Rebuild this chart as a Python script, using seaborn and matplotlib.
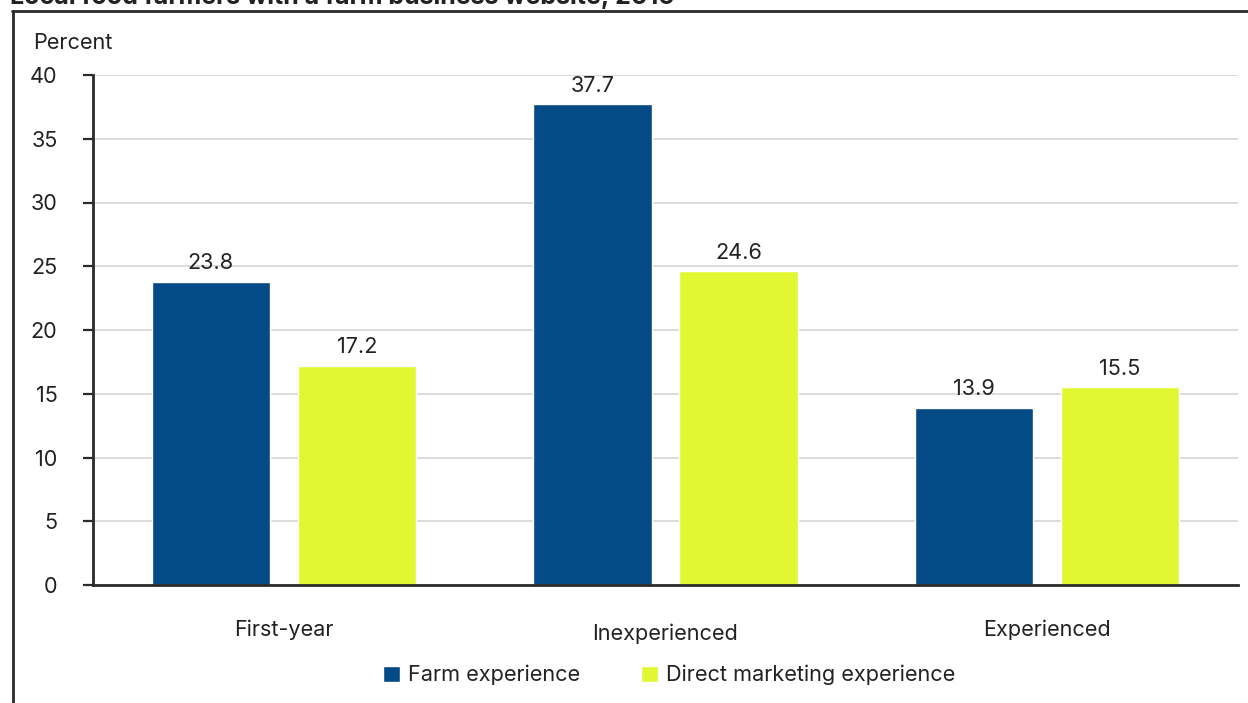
import matplotlib
matplotlib.use("Agg")
import matplotlib.pyplot as plt
import matplotlib.transforms as mtransforms
from matplotlib.lines import Line2D
import seaborn as sns
import pandas as pd

categories = ["First-year", "Inexperienced", "Experienced"]
series_names = ["Farm experience", "Direct marketing experience"]
farm_experience = [23.8, 37.7, 13.9]
direct_marketing_experience = [17.2, 24.6, 15.5]
y_ticks = [0, 5, 10, 15, 20, 25, 30, 35, 40]
title = "Local food farmers with a farm business website, 2015"
y_label = "Percent"

colors = ["#034a86", "#e1f732"]
FS = 15.6

df = pd.DataFrame({
    "category": categories * 2,
    "series": [series_names[0]] * 3 + [series_names[1]] * 3,
    "value": farm_experience + direct_marketing_experience,
})

sns.set_theme(style="white")
plt.rcParams["font.family"] = ["Inter", "DejaVu Sans"]

fig = plt.figure(figsize=(12.48, 7.03), dpi=100)
ax = fig.add_axes([93 / 1248, 1 - 585 / 703, (1238 - 93) / 1248, (585 - 75) / 703])

sns.barplot(data=df, x="category", y="value", hue="series", order=categories,
            hue_order=series_names, palette=colors, width=0.765, gap=0.19,
            saturation=1, ax=ax, legend=True, errorbar=None)

ax.set_xlim(-0.5, 2.5)
ax.set_ylim(0, 40)
ax.set_yticks(y_ticks)
ax.set_yticklabels([str(t) for t in y_ticks])
ax.set_xlabel("")
ax.set_ylabel("")
ax.grid(axis="y", color="#d9d9d9", linewidth=1.3)
ax.set_axisbelow(True)

for s in ["top", "right"]:
    ax.spines[s].set_visible(False)
for s in ["left", "bottom"]:
    ax.spines[s].set_color("#2b2b2b")
    ax.spines[s].set_linewidth(2)

ax.tick_params(axis="y", length=7.5, width=1.6, color="#2b2b2b", pad=18,
               labelsize=FS, labelcolor="#222222", left=True)
ax.tick_params(axis="x", length=0, pad=24.5, labelsize=FS, labelcolor="#222222")

# Middle category label sits slightly lower in the reference
xlabels = ax.get_xticklabels()
off = mtransforms.ScaledTranslation(0, -4 / 100, fig.dpi_scale_trans)
xlabels[1].set_transform(xlabels[1].get_transform() + off)

for cont in ax.containers:
    ax.bar_label(cont, fmt="%.1f", padding=6, fontsize=FS, color="#222222")

handles, labels = ax.get_legend_handles_labels()
ax.legend(handles, labels, loc="center", bbox_to_anchor=(669 / 1248, 1 - 675 / 703),
          bbox_transform=fig.transFigure, ncol=2, frameon=False, fontsize=FS,
          handlelength=0.78, handleheight=0.78, handletextpad=0.38,
          columnspacing=2.8, labelcolor="#222222")

fig.text(33 / 1248, 1 - 43 / 703, y_label, fontsize=FS, color="#222222",
         ha="left", va="center")

# Partially visible title at top
fig.text(10 / 1248, 1 - 4 / 703, title, fontsize=18, fontweight="bold",
         color="#222222", ha="left", va="baseline")

# Frame lines
fig.add_artist(Line2D([12.5 / 1248, 12.5 / 1248], [0, 1 - 10.5 / 703],
                      transform=fig.transFigure, color="#2b2b2b", linewidth=2))
fig.add_artist(Line2D([11.8 / 1248, 1], [1 - 10.5 / 703, 1 - 10.5 / 703],
                      transform=fig.transFigure, color="#2b2b2b", linewidth=2))

fig.savefig("out.png", dpi=100)
